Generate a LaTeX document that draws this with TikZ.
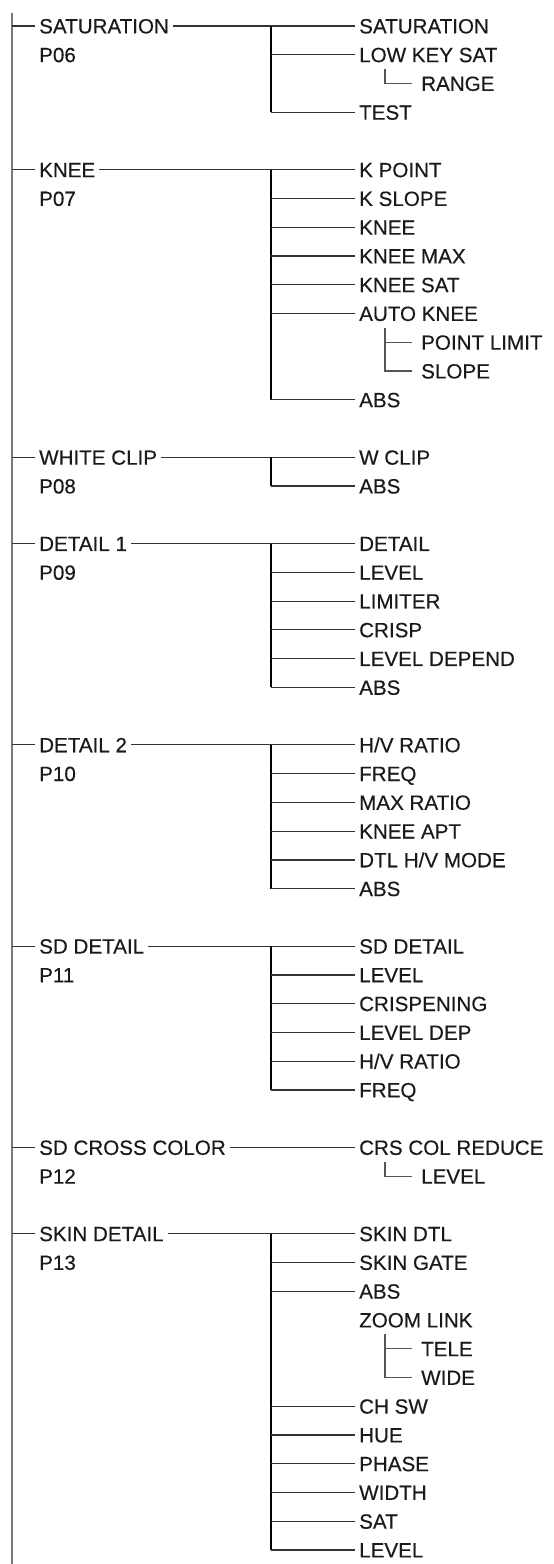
\documentclass[tikz,border=0pt]{standalone}
\usepackage{fontspec}
\setmainfont{Liberation Sans}[BoldFont={Liberation Sans},BoldFeatures={FakeBold=0.35}]
\definecolor{txt}{HTML}{1A1A1A}
\definecolor{trunkc}{HTML}{7A7A7A}
\definecolor{hlc}{HTML}{333333}
\definecolor{slc}{HTML}{555555}
\tikzset{
  lbl/.style={anchor=west, inner xsep=4pt, inner ysep=0pt, text height=14.75pt, text depth=0pt,
    font=\fontsize{20.6}{20.6}\selectfont\bfseries, text=txt},
  sublbl/.style={lbl, inner xsep=9pt},
  hl/.style={draw=hlc, line width=1.2pt},
  busl/.style={draw=black, line width=1.9pt},
  trunkl/.style={draw=trunkc, line width=1.9pt},
  sl/.style={draw=slc, line width=1.2pt}
}
\begin{document}
\begin{tikzpicture}[x=1pt, y=-28.755pt]
\useasboundingbox (0pt,0pt) rectangle (554pt,-1564pt);
\coordinate (ttop) at (12pt,-12.7pt);
\coordinate (tbot) at (12pt,-1564pt);
\draw[trunkl] (ttop) -- (tbot);
\begin{scope}[yshift=-26pt]
\def\LX{35}\def\CX{355}\def\SX{412}
\coordinate (bx) at (271,0);
\coordinate (sx) at (385,0);
% ---------- group 1
\node[lbl] (L1) at (\LX,0) {SATURATION};
\node[lbl] (P1) at (\LX,1) {P06};
\node[lbl] (c1a) at (\CX,0) {SATURATION};
\node[lbl] (c1b) at (\CX,1) {LOW KEY SAT};
\node[sublbl] (s1a) at (\SX,2) {RANGE};
\node[lbl] (c1c) at (\CX,3) {TEST};
\coordinate (t1) at (12,0);
\coordinate (u1) at (385,1.5);
\draw[hl] (t1) -- (L1.west);
\draw[hl] (L1.east) -- (c1a.west);
\draw[busl] (bx |- c1a.west) -- (bx |- c1c.west);
\draw[hl] (bx |- c1b.west) -- (c1b.west);
\draw[hl] (bx |- c1c.west) -- (c1c.west);
\draw[sl] (u1) |- (s1a.west);
% ---------- group 2
\node[lbl] (L2) at (\LX,5) {KNEE};
\node[lbl] (P2) at (\LX,6) {P07};
\node[lbl] (c2a) at (\CX,5) {K POINT};
\node[lbl] (c2b) at (\CX,6) {K SLOPE};
\node[lbl] (c2c) at (\CX,7) {KNEE};
\node[lbl] (c2d) at (\CX,8) {KNEE MAX};
\node[lbl] (c2e) at (\CX,9) {KNEE SAT};
\node[lbl] (c2f) at (\CX,10) {AUTO KNEE};
\node[sublbl] (s2a) at (\SX,11) {POINT LIMIT};
\node[sublbl] (s2b) at (\SX,12) {SLOPE};
\node[lbl] (c2g) at (\CX,13) {ABS};
\coordinate (t2) at (12,5);
\coordinate (u2) at (385,10.5);
\draw[hl] (t2) -- (L2.west);
\draw[hl] (L2.east) -- (c2a.west);
\draw[busl] (bx |- c2a.west) -- (bx |- c2g.west);
\foreach \n in {c2b,c2c,c2d,c2e,c2f,c2g} \draw[hl] (bx |- \n.west) -- (\n.west);
\draw[sl] (u2) |- (s2b.west);
\draw[sl] (sx |- s2a.west) -- (s2a.west);
% ---------- group 3
\node[lbl] (L3) at (\LX,15) {WHITE CLIP};
\node[lbl] (P3) at (\LX,16) {P08};
\node[lbl] (c3a) at (\CX,15) {W CLIP};
\node[lbl] (c3b) at (\CX,16) {ABS};
\coordinate (t3) at (12,15);
\draw[hl] (t3) -- (L3.west);
\draw[hl] (L3.east) -- (c3a.west);
\draw[busl] (bx |- c3a.west) -- (bx |- c3b.west);
\draw[hl] (bx |- c3b.west) -- (c3b.west);
% ---------- group 4
\node[lbl] (L4) at (\LX,18) {DETAIL 1};
\node[lbl] (P4) at (\LX,19) {P09};
\node[lbl] (c4a) at (\CX,18) {DETAIL};
\node[lbl] (c4b) at (\CX,19) {LEVEL};
\node[lbl] (c4c) at (\CX,20) {LIMITER};
\node[lbl] (c4d) at (\CX,21) {CRISP};
\node[lbl] (c4e) at (\CX,22) {LEVEL DEPEND};
\node[lbl] (c4f) at (\CX,23) {ABS};
\coordinate (t4) at (12,18);
\draw[hl] (t4) -- (L4.west);
\draw[hl] (L4.east) -- (c4a.west);
\draw[busl] (bx |- c4a.west) -- (bx |- c4f.west);
\foreach \n in {c4b,c4c,c4d,c4e,c4f} \draw[hl] (bx |- \n.west) -- (\n.west);
% ---------- group 5
\node[lbl] (L5) at (\LX,25) {DETAIL 2};
\node[lbl] (P5) at (\LX,26) {P10};
\node[lbl] (c5a) at (\CX,25) {H/V RATIO};
\node[lbl] (c5b) at (\CX,26) {FREQ};
\node[lbl] (c5c) at (\CX,27) {MAX RATIO};
\node[lbl] (c5d) at (\CX,28) {KNEE APT};
\node[lbl] (c5e) at (\CX,29) {DTL H/V MODE};
\node[lbl] (c5f) at (\CX,30) {ABS};
\coordinate (t5) at (12,25);
\draw[hl] (t5) -- (L5.west);
\draw[hl] (L5.east) -- (c5a.west);
\draw[busl] (bx |- c5a.west) -- (bx |- c5f.west);
\foreach \n in {c5b,c5c,c5d,c5e,c5f} \draw[hl] (bx |- \n.west) -- (\n.west);
% ---------- group 6
\node[lbl] (L6) at (\LX,32) {SD DETAIL};
\node[lbl] (P6) at (\LX,33) {P11};
\node[lbl] (c6a) at (\CX,32) {SD DETAIL};
\node[lbl] (c6b) at (\CX,33) {LEVEL};
\node[lbl] (c6c) at (\CX,34) {CRISPENING};
\node[lbl] (c6d) at (\CX,35) {LEVEL DEP};
\node[lbl] (c6e) at (\CX,36) {H/V RATIO};
\node[lbl] (c6f) at (\CX,37) {FREQ};
\coordinate (t6) at (12,32);
\draw[hl] (t6) -- (L6.west);
\draw[hl] (L6.east) -- (c6a.west);
\draw[busl] (bx |- c6a.west) -- (bx |- c6f.west);
\foreach \n in {c6b,c6c,c6d,c6e,c6f} \draw[hl] (bx |- \n.west) -- (\n.west);
% ---------- group 7
\node[lbl] (L7) at (\LX,39) {SD CROSS COLOR};
\node[lbl] (P7) at (\LX,40) {P12};
\node[lbl] (c7a) at (\CX,39) {CRS COL REDUCE};
\node[sublbl] (s7a) at (\SX,40) {LEVEL};
\coordinate (t7) at (12,39);
\coordinate (u7) at (385,39.5);
\draw[hl] (t7) -- (L7.west);
\draw[hl] (L7.east) -- (c7a.west);
\draw[sl] (u7) |- (s7a.west);
% ---------- group 8
\node[lbl] (L8) at (\LX,42) {SKIN DETAIL};
\node[lbl] (P8) at (\LX,43) {P13};
\node[lbl] (c8a) at (\CX,42) {SKIN DTL};
\node[lbl] (c8b) at (\CX,43) {SKIN GATE};
\node[lbl] (c8c) at (\CX,44) {ABS};
\node[lbl] (c8d) at (\CX,45) {ZOOM LINK};
\node[sublbl] (s8a) at (\SX,46) {TELE};
\node[sublbl] (s8b) at (\SX,47) {WIDE};
\node[lbl] (c8e) at (\CX,48) {CH SW};
\node[lbl] (c8f) at (\CX,49) {HUE};
\node[lbl] (c8g) at (\CX,50) {PHASE};
\node[lbl] (c8h) at (\CX,51) {WIDTH};
\node[lbl] (c8i) at (\CX,52) {SAT};
\node[lbl] (c8j) at (\CX,53) {LEVEL};
\coordinate (t8) at (12,42);
\coordinate (u8) at (385,45.5);
\draw[hl] (t8) -- (L8.west);
\draw[hl] (L8.east) -- (c8a.west);
\draw[busl] (bx |- c8a.west) -- (bx |- c8j.west);
\foreach \n in {c8b,c8c,c8e,c8f,c8g,c8h,c8i,c8j} \draw[hl] (bx |- \n.west) -- (\n.west);
\draw[sl] (u8) |- (s8b.west);
\draw[sl] (sx |- s8a.west) -- (s8a.west);
\end{scope}
\end{tikzpicture}
\end{document}
